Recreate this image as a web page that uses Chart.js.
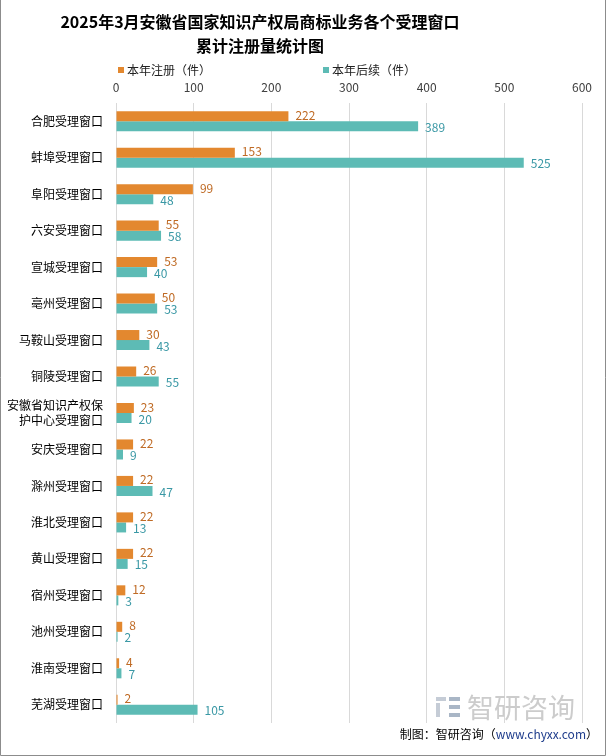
<!DOCTYPE html>
<html>
<head>
<meta charset="utf-8">
<script src="https://cdn.jsdelivr.net/npm/chart.js@4.4.1/dist/chart.umd.min.js"></script>
<style>
  html, body { margin: 0; padding: 0; background: #fff; }
  #wrap { position: relative; width: 606px; height: 756px; }
</style>
</head>
<body>
<div id="wrap"><canvas id="myChart" width="606" height="756"></canvas></div>
<script>
// dati
const categories = ["合肥受理窗口", "蚌埠受理窗口", "阜阳受理窗口", "六安受理窗口", "宣城受理窗口", "亳州受理窗口", "马鞍山受理窗口", "铜陵受理窗口", ["安徽省知识产权保", "护中心受理窗口"], "安庆受理窗口", "滁州受理窗口", "淮北受理窗口", "黄山受理窗口", "宿州受理窗口", "池州受理窗口", "淮南受理窗口", "芜湖受理窗口"];
const registered = [222, 153, 99, 55, 53, 50, 30, 26, 23, 22, 22, 22, 22, 12, 8, 4, 2];
const followUp = [389, 525, 48, 58, 40, 53, 43, 55, 20, 9, 47, 13, 15, 3, 2, 7, 105];
const seriesNames = ["本年注册（件）", "本年后续（件）"];
const xTicks = [0, 100, 200, 300, 400, 500, 600];

const colOrange = "#E3882F";
const colTeal = "#5DBBB5";
const labOrange = "#BF6A24";
const labTeal = "#3A98A5";
const cjk = "'Noto Sans CJK SC', 'Microsoft YaHei', sans-serif";

// titolo, legenda, etichette, firma
const decorations = {
  id: "decorations",
  afterDatasetsDraw(chart) {
    const ctx = chart.ctx;
    ctx.save();
    // etichette valori
    const colors = [labOrange, labTeal];
    chart.data.datasets.forEach((ds, di) => {
      const meta = chart.getDatasetMeta(di);
      meta.data.forEach((bar, i) => {
        ctx.font = "12px " + cjk;
        ctx.fillStyle = colors[di];
        ctx.textAlign = "left";
        ctx.textBaseline = "middle";
        ctx.fillText(ds.data[i], bar.x + 7, bar.y + (di === 0 ? -1 : 1));
      });
    });
    ctx.restore();
  },
  afterDraw(chart) {
    const ctx = chart.ctx;
    ctx.save();
    // titolo
    ctx.fillStyle = "#000";
    ctx.font = "bold 16px " + cjk;
    ctx.textAlign = "center";
    ctx.textBaseline = "middle";
    ctx.fillText("2025年3月安徽省国家知识产权局商标业务各个受理窗口", 260, 22);
    ctx.fillText("累计注册量统计图", 260, 46);
    // legenda
    ctx.font = "12px " + cjk;
    ctx.textAlign = "left";
    ctx.fillStyle = colOrange;
    ctx.fillRect(118, 67, 6, 6);
    ctx.fillStyle = "#222";
    ctx.fillText(seriesNames[0], 127, 70);
    ctx.fillStyle = colTeal;
    ctx.fillRect(323, 67, 6, 6);
    ctx.fillStyle = "#222";
    ctx.fillText(seriesNames[1], 332, 70);
    // watermark
    ctx.fillStyle = "#c5ccd6";
    ctx.fillRect(436, 697, 10, 4);
    ctx.fillRect(436, 703, 4, 14);
    ctx.fillStyle = "#a9b6c6";
    ctx.fillRect(449, 697, 11, 4);
    ctx.fillRect(449, 705, 11, 4);
    ctx.fillRect(449, 713, 11, 4);
    ctx.fillStyle = "#cccccc";
    ctx.font = "27px " + cjk;
    ctx.fillText("智研咨询", 467, 708);
    // fonte
    ctx.font = "12px " + cjk;
    ctx.textAlign = "right";
    const url = "www.chyxx.com";
    ctx.fillStyle = "#000";
    ctx.fillText("）", 598, 734);
    let w = ctx.measureText("）").width;
    ctx.fillStyle = "#1F3D8C";
    ctx.fillText(url, 598 - w, 734);
    w += ctx.measureText(url).width;
    ctx.fillStyle = "#000";
    ctx.fillText("制图：智研咨询（", 598 - w, 734);
    // bordo
    ctx.strokeStyle = "#8c8c8c";
    ctx.lineWidth = 1;
    ctx.beginPath();
    ctx.moveTo(0.5, 0);
    ctx.lineTo(0.5, 755.5);
    ctx.lineTo(605.5, 755.5);
    ctx.lineTo(605.5, 0);
    ctx.stroke();
    ctx.restore();
  }
};

const myChart = document.getElementById("myChart");

new Chart(myChart, {
  type: "bar",
  data: {
    labels: categories,
    datasets: [
      { label: seriesNames[0], data: registered, backgroundColor: colOrange },
      { label: seriesNames[1], data: followUp, backgroundColor: colTeal },
    ],
  },
  options: {
    indexAxis: "y",
    responsive: false,
    animation: false,
    layout: { padding: { top: 77, right: 24, bottom: 33, left: 0 } },
    datasets: { bar: { categoryPercentage: 0.55, barPercentage: 1 } },
    scales: {
      x: {
        position: "top",
        min: 0,
        max: 600,
        afterBuildTicks: (scale) => { scale.ticks = xTicks.map((v) => ({ value: v })); },
        afterFit: (scale) => { scale.height = 26; },
        grid: { color: "#d9d9d9", drawTicks: false },
        border: { display: false },
        ticks: { color: "#404040", font: { size: 12, family: cjk }, padding: 8 },
      },
      y: {
        afterFit: (scale) => { scale.width = 116; },
        grid: { display: false },
        border: { display: false },
        ticks: { color: "#000", font: { size: 12, family: cjk }, padding: 5, autoSkip: false },
      },
    },
    plugins: {
      legend: { display: false },
      tooltip: { enabled: false },
    },
  },
  plugins: [decorations],
});
</script>
</body>
</html>
